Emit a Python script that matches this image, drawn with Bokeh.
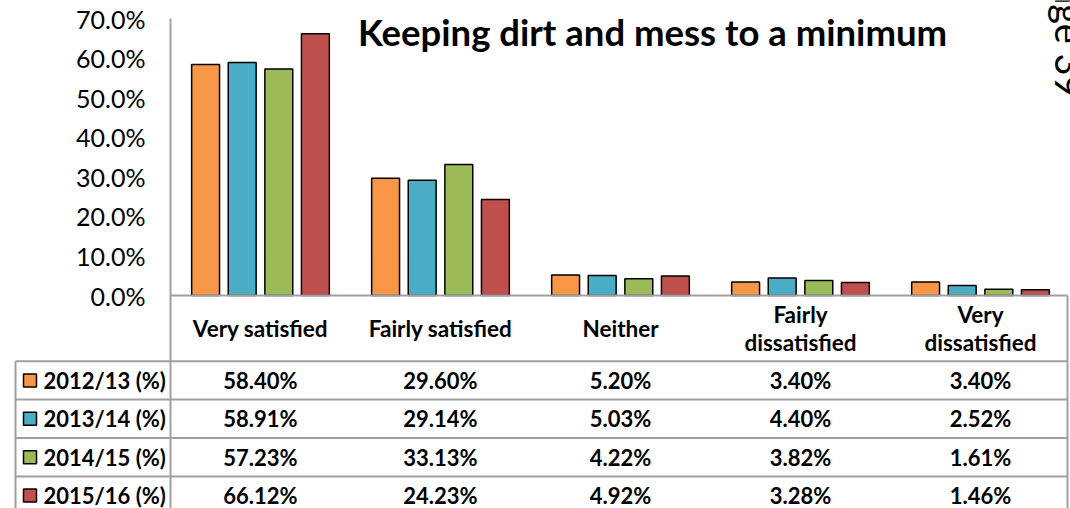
import math
from bokeh.plotting import figure
from bokeh.models import (Range1d, FixedTicker, PrintfTickFormatter,
                          Label, ColumnDataSource)
from bokeh.transform import dodge
from bokeh.core.properties import value
from bokeh.embed import file_html
from bokeh.resources import INLINE

# ---------------- data ----------------
categories = ["Very satisfied", "Fairly satisfied", "Neither",
              "Fairly dissatisfied", "Very dissatisfied"]
header_labels = ["Very satisfied", "Fairly satisfied", "Neither",
                 "Fairly\ndissatisfied", "Very\ndissatisfied"]
series_names = ["2012/13 (%)", "2013/14 (%)", "2014/15 (%)", "2015/16 (%)"]
v_2012_13 = [58.40, 29.60, 5.20, 3.40, 3.40]
v_2013_14 = [58.91, 29.14, 5.03, 4.40, 2.52]
v_2014_15 = [57.23, 33.13, 4.22, 3.82, 1.61]
v_2015_16 = [66.12, 24.23, 4.92, 3.28, 1.46]
y_ticks = [0, 10, 20, 30, 40, 50, 60, 70]
title_text = "Keeping dirt and mess to a minimum"
page_text = "Page 39"

series_values = [v_2012_13, v_2013_14, v_2014_15, v_2015_16]
colors = ["#F79646", "#4BACC6", "#9BBB59", "#C0504D"]
FONT = "Lato"
GRAY = "#a0a0a0"

# ---------------- layout (canvas pixels) ----------------
W, H = 1070, 508
AXIS_X, TOP, ZERO_Y = 170, 18, 295          # plot area: left edge, 70 % level, 0 % level
TABLE_L, TABLE_R = 15, 1067
Y_MAX = 70
px_per_unit = (ZERO_Y - TOP) / Y_MAX
y_lo = -(H - ZERO_Y) / px_per_unit
y_hi = Y_MAX + TOP / px_per_unit
CAT_W = (W - AXIS_X) / len(categories)
cat_x = [AXIS_X + CAT_W * (i + 0.5) for i in range(len(categories))]

p = figure(width=W, height=H,
           x_range=Range1d(0, W), y_range=Range1d(y_lo, y_hi),
           output_backend="svg", toolbar_location=None,
           x_axis_location=None, y_axis_location="left",
           min_border=0, min_border_left=0, min_border_right=0,
           min_border_top=0, min_border_bottom=0)
p.outline_line_color = None
p.grid.grid_line_color = None
p.background_fill_color = "white"
p.border_fill_color = "white"
p.extra_y_ranges = {"py": Range1d(H, 0)}      # table coordinates, top-down

yax = p.yaxis[0]
yax.fixed_location = AXIS_X
yax.bounds = (y_lo, Y_MAX)
yax.ticker = FixedTicker(ticks=y_ticks, minor_ticks=[])
yax.formatter = PrintfTickFormatter(format="%.1f%%")
yax.major_tick_out = 0
yax.major_tick_in = 0
yax.minor_tick_out = 0
yax.minor_tick_in = 0
yax.axis_line_color = GRAY
yax.axis_line_width = 2
yax.major_label_text_font = FONT
yax.major_label_text_font_size = "25px"
yax.major_label_text_color = "black"
yax.major_label_standoff = 25

# ---------------- bars ----------------
data = dict(cat=categories, xc=cat_x)
for i, vals in enumerate(series_values):
    data[f"s{i}"] = vals
src = ColumnDataSource(data)

offsets = [-0.305, -0.1017, 0.1017, 0.305]
for i in range(len(series_values)):
    p.vbar(x=dodge("xc", offsets[i] * CAT_W), top=f"s{i}", bottom=0,
           width=0.155 * CAT_W, source=src, fill_color=colors[i],
           line_color="black", line_width=1.5)

# category axis line (0 %)
p.segment(x0=[AXIS_X], y0=[0], x1=[TABLE_R], y1=[0], line_color=GRAY, line_width=2)

# title and page number
p.add_layout(Label(x=652, y=31, y_range_name="py",
                   text=title_text, text_font=FONT,
                   text_font_style="bold", text_font_size="36.5px",
                   text_color="black", text_align="center",
                   text_baseline="alphabetic"))
p.add_layout(Label(x=1069, y=97, y_range_name="py",
                   text=page_text, text_font=FONT,
                   text_font_size="38px", text_color="black",
                   angle=-math.pi / 2, text_align="right",
                   text_baseline="alphabetic"))

# ---------------- data table ----------------
HEADER_BOTTOM = 360.7
ROW_H = 38.4
row_tops = [HEADER_BOTTOM + ROW_H * k for k in range(len(series_names))]
row_centers = [rt + ROW_H / 2 for rt in row_tops]

p.segment(x0=[TABLE_L] * len(row_tops), y0=row_tops,
          x1=[TABLE_R] * len(row_tops), y1=row_tops,
          line_color=GRAY, line_width=2, y_range_name="py")
p.segment(x0=[TABLE_L, TABLE_R], y0=[HEADER_BOTTOM, ZERO_Y],
          x1=[TABLE_L, TABLE_R], y1=[H + 5, H + 5],
          line_color=GRAY, line_width=2, y_range_name="py")

# header labels
hx, hy, ht = [], [], []
for cx, lab in zip(cat_x, header_labels):
    lines = lab.split("\n")
    ys = [328] if len(lines) == 1 else [314, 342]
    for yy, ln in zip(ys, lines):
        hx.append(cx); hy.append(yy); ht.append(ln)
p.text(x=hx, y=hy, text=ht, text_font=value(FONT), text_font_style="bold",
       text_font_size="22.5px", text_align="center", text_baseline="middle",
       text_color="black", y_range_name="py")

# row names with legend keys
p.rect(x=[29.5] * len(series_names), y=row_centers, width=13, height=13,
       fill_color=colors, line_color="black", line_width=1.5, y_range_name="py")
p.text(x=[43] * len(series_names), y=row_centers, text=series_names,
       text_font=value(FONT), text_font_style="bold", text_font_size="22px",
       text_align="left", text_baseline="middle", text_color="black",
       y_range_name="py")

# values
vx, vy, vt = [], [], []
for rc, vals in zip(row_centers, series_values):
    for cx, v in zip(cat_x, vals):
        vx.append(cx); vy.append(rc); vt.append(f"{v:.2f}%")
p.text(x=vx, y=vy, text=vt, text_font=value(FONT), text_font_style="bold",
       text_font_size="22px", text_align="center", text_baseline="middle",
       text_color="black", y_range_name="py")

open("out.html", "w").write(file_html(p, INLINE))
